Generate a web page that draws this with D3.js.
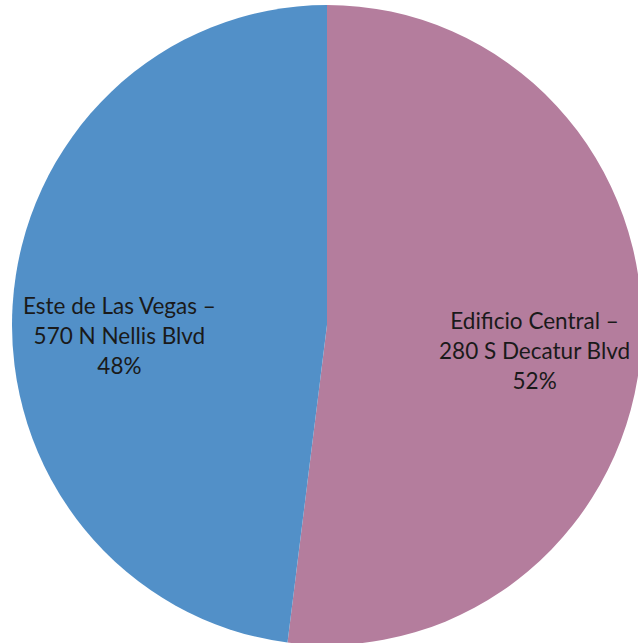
<!DOCTYPE html>
<html>
<head>
<meta charset="utf-8">
<script src="https://cdn.jsdelivr.net/npm/d3@7"></script>
<style>
  body { margin: 0; background: #fff; }
  svg { display: block; }
</style>
</head>
<body>
<script>
var width = 638,
    height = 643,
    cx = 327,
    cy = 325,
    radius = 315,
    squash = 1.016;   // the scanned pie is a touch taller than wide

// slices, clockwise from 12 o'clock
var names = [
  ["Edificio Central –", "280 S Decatur Blvd"],
  ["Este de Las Vegas –", "570 N Nellis Blvd"]
];
var values = [52, 48];
var colors = ["#b47d9d", "#5290c8"];

var data = values.map(function(v, i) {
  return { lines: names[i], value: v, color: colors[i] };
});

var svg = d3.select("body").append("svg")
    .attr("width", width)
    .attr("height", height);

var g = svg.append("g")
    .attr("transform", "translate(" + cx + "," + cy + ") scale(1," + squash + ")");

var pie = d3.pie()
    .sort(null)
    .value(function(d) { return d.value; });

var arc = d3.arc()
    .innerRadius(0)
    .outerRadius(radius);

var labelArc = d3.arc()
    .innerRadius(208)
    .outerRadius(208);

var arcs = pie(data);

g.selectAll("path")
    .data(arcs)
    .enter().append("path")
    .attr("d", arc)
    .attr("fill", function(d) { return d.data.color; });

var total = d3.sum(values);

// labels sit a little below the centroid, more so on the left
var nudge = [21, 32];

var labels = svg.append("g")
    .attr("transform", "translate(" + cx + "," + cy + ")")
    .selectAll("text")
    .data(arcs)
    .enter().append("text")
    .attr("transform", function(d, i) {
      var c = labelArc.centroid(d);
      return "translate(" + c[0] + "," + (c[1] * squash + nudge[i]) + ")";
    })
    .attr("text-anchor", "middle")
    .style("font-family", "Lato, 'Open Sans', sans-serif")
    .style("font-size", "22.5px")
    .style("fill", "#1a1a1a");

labels.each(function(d) {
  var t = d3.select(this);
  var lines = d.data.lines.concat([Math.round(d.data.value / total * 100) + "%"]);
  lines.forEach(function(s, i) {
    t.append("tspan")
      .attr("x", 0)
      .attr("y", (i - 1) * 30)
      .text(s);
  });
});
</script>
</body>
</html>
